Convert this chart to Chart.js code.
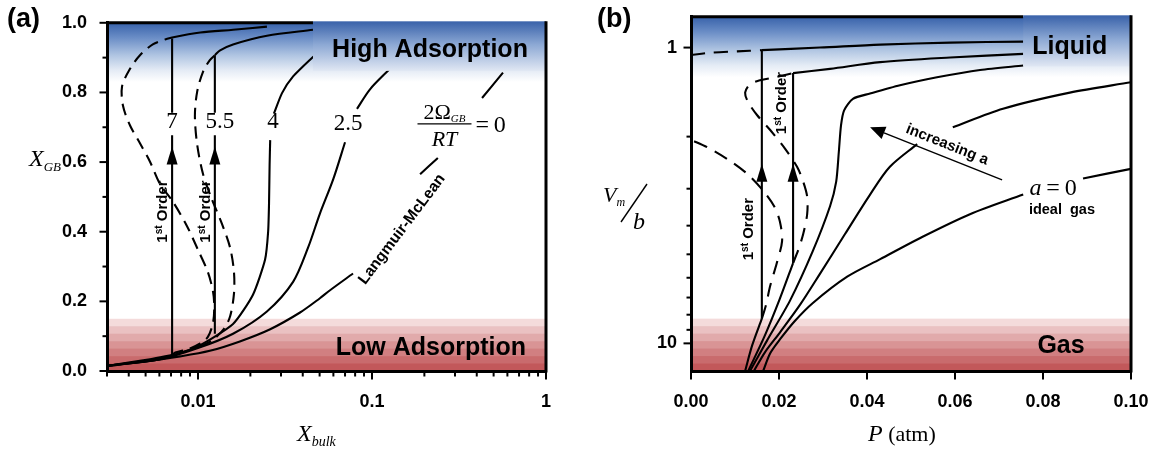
<!DOCTYPE html>
<html><head><meta charset="utf-8">
<script src="https://cdn.jsdelivr.net/npm/chart.js@4.4.0/dist/chart.umd.min.js"></script>
<style>
html,body{margin:0;padding:0;background:#fff;}
#wrap{position:relative;width:1150px;height:449px;overflow:hidden;background:#fff;}
.pane{position:absolute;top:0;width:575px;height:449px;}
canvas{display:block;}
</style></head><body>
<div id="wrap">
<div class="pane" style="left:0"><canvas id="ca" width="575" height="449" style="width:575px;height:449px"></canvas></div>
<div class="pane" style="left:575px"><canvas id="cb" width="575" height="449" style="width:575px;height:449px"></canvas></div>
</div>
<script>
// ================= DATA : panel (a)  X_bulk (log) vs X_GB =================
const aXTickValues = [0.01, 0.1, 1];
const aXTickLabels = ['0.01', '0.1', '1'];
const aYTickValues = [0, 0.2, 0.4, 0.6, 0.8, 1.0];
const aYTickLabels = ['0.0', '0.2', '0.4', '0.6', '0.8', '1.0'];
const aCurveNames = ['7', '5.5', '4', '2.5'];           // 2Ω_GB/RT values

// 2Ω/RT = 0  (Langmuir-McLean)
const aLmX = [0.003, 0.0046, 0.0079, 0.0117, 0.0174, 0.026, 0.0386, 0.0502, 0.0574, 0.0778, 0.1, 0.189, 0.239, 0.3, 0.429, 0.566];
const aLmY = [0.014, 0.025, 0.042, 0.058, 0.085, 0.12, 0.168, 0.209, 0.232, 0.28, null, 0.565, 0.612, null, 0.784, 0.857];
// 2Ω/RT = 2.5
const a25X = [0.003, 0.006, 0.0099, 0.0159, 0.0249, 0.0352, 0.0429, 0.0502, 0.0599, 0.07, 0.076, 0.082, 0.0974, 0.1268];
const a25Y = [0.015, 0.033, 0.065, 0.107, 0.171, 0.256, 0.354, 0.452, 0.551, 0.657, null, 0.753, 0.809, 0.868];
// 2Ω/RT = 4
const a4X = [0.003, 0.006, 0.0099, 0.0159, 0.0207, 0.0243, 0.0253, 0.0256, 0.0258, 0.026, 0.0266, 0.0273, 0.0304, 0.0352, 0.0458, 0.049];
const a4Y = [0.015, 0.034, 0.07, 0.135, 0.219, 0.32, 0.40, 0.48, 0.593, 0.663, null, 0.739, 0.798, 0.846, 0.902, 0.913];
// 2Ω/RT = 5.5
const a55LowX = [0.003, 0.006, 0.0084, 0.0103];
const a55LowY = [0.015, 0.035, 0.056, 0.07];
const a55UnstX = [0.0103, 0.012, 0.0141, 0.0153, 0.0161, 0.0161, 0.0153, 0.0137, 0.012, 0.0107, 0.0099, 0.0096, 0.0099, 0.0107, 0.0117, 0.0125];
const a55UnstY = [0.07, 0.087, 0.121, 0.157, 0.222, 0.284, 0.354, 0.424, 0.494, 0.565, 0.649, 0.733, 0.803, 0.86, 0.893, 0.907];
const a55HighX = [0.0125, 0.0134, 0.0159, 0.0249, 0.0458];
const a55HighY = [0.907, 0.921, 0.938, 0.963, 0.98];
const a55JumpX = [0.0125, 0.0125, 0.0125, 0.0125, 0.0125];
const a55JumpY = [0.107, 0.677, null, 0.742, 0.907];
// 2Ω/RT = 7
const a7LowX = [0.003, 0.0053, 0.0071];
const a7LowY = [0.015, 0.034, 0.046];
const a7UnstX = [0.0071, 0.0074, 0.009, 0.0103, 0.0114, 0.0122, 0.0124, 0.0122, 0.0114, 0.01, 0.00865, 0.00718, 0.00605, 0.0053, 0.00464, 0.00407, 0.00371, 0.00366, 0.00407, 0.00464, 0.0055, 0.00646];
const a7UnstY = [0.046, 0.053, 0.065, 0.079, 0.098, 0.138, 0.185, 0.228, 0.284, 0.348, 0.416, 0.486, 0.537, 0.601, 0.654, 0.705, 0.761, 0.817, 0.868, 0.907, 0.938, 0.952];
const a7HighX = [0.00646, 0.0071, 0.0103, 0.0159, 0.0249];
const a7HighY = [0.952, 0.958, 0.972, 0.98, 0.989];
const a7JumpX = [0.0071, 0.0071, 0.0071, 0.0071, 0.0071];
const a7JumpY = [0.037, 0.677, null, 0.742, 0.955];

// ================= DATA : panel (b)  P (atm) vs V_m/b (log, reversed) =================
const bXTickValues = [0, 0.02, 0.04, 0.06, 0.08, 0.10];
const bXTickLabels = ['0.00', '0.02', '0.04', '0.06', '0.08', '0.10'];
const bYTickValues = [1, 10];
const bYTickLabels = ['1', '10'];

// a = 0 (ideal gas)
const bIdealP = [0.0164, 0.018, 0.0202, 0.0236, 0.0277, 0.0355, 0.043, 0.052, 0.0634, 0.0755, 0.082, 0.0891, 0.1];
const bIdealV = [12.4, 10.8, 9.7, 8.4, 7.3, 5.95, 5.19, 4.41, 3.66, 3.14, null, 2.77, 2.57];
// small a
const bEP = [0.0143, 0.0168, 0.0202, 0.0248, 0.0293, 0.035, 0.0407, 0.0452, 0.0514, 0.055, 0.0595, 0.0709, 0.0861, 0.1];
const bEV = [12.4, 10.72, 9.19, 7.40, 5.82, 4.27, 3.14, 2.53, 2.12, null, 1.86, 1.61, 1.42, 1.31];
// critical-like a
const bCP = [0.0134, 0.0173, 0.0225, 0.0277, 0.0316, 0.033, 0.0336, 0.0341, 0.0348, 0.0368, 0.0407, 0.0475, 0.0559, 0.0657, 0.0755];
const bCV = [12.4, 9.77, 7.17, 4.87, 3.44, 2.84, 2.25, 1.83, 1.63, 1.49, 1.43, 1.34, 1.26, 1.19, 1.15];
// larger a (first order)
const bBLowP = [0.013, 0.0168, 0.0202, 0.0232];
const bBLowV = [12.4, 9.40, 7.06, 5.35];
const bBUnstP = [0.0232, 0.0243, 0.0255, 0.0264, 0.0264, 0.0255, 0.0241, 0.0214, 0.018, 0.015, 0.013, 0.0123, 0.0134, 0.0157, 0.0191, 0.0232];
const bBUnstV = [5.35, 4.87, 4.27, 3.66, 3.19, 2.84, 2.53, 2.20, 1.90, 1.69, 1.53, 1.42, 1.33, 1.29, 1.26, 1.22];
const bBHighP = [0.0232, 0.0316, 0.043, 0.0589, 0.0755];
const bBHighV = [1.22, 1.18, 1.12, 1.08, 1.05];
const bBJumpP = [0.0232, 0.0232];
const bBJumpV = [5.35, 1.22];
// largest a (first order)
const bALowP = [0.0123, 0.0139, 0.0161];
const bALowV = [12.4, 10.16, 8.25];
const bAUnstP = [0.0161, 0.017, 0.018, 0.0195, 0.0207, 0.0202, 0.0189, 0.0166, 0.013, 0.0084, 0.0039, 0, 0, 0, 0.0048, 0.0105, 0.0161];
const bAUnstV = [8.25, 7.46, 6.39, 5.35, 4.51, 3.87, 3.44, 3.07, 2.69, 2.39, 2.18, 2.05, null, 1.06, 1.04, 1.03, 1.02];
const bAHighP = [0.0161, 0.0293, 0.043, 0.0589, 0.0755];
const bAHighV = [1.02, 1.0, 0.977, 0.962, 0.955];
const bAJumpP = [0.0161, 0.0161];
const bAJumpV = [8.25, 1.02];

// ================= helpers =================
const SANS = "'Liberation Sans', Arial, sans-serif";
const SERIF = "'Liberation Serif', 'Times New Roman', serif";
const THIN = '\u2009';

function pts(xs, ys) { return xs.map((x, i) => ({x: x, y: ys[i]})); }
function curve(xs, ys, dash, tension) {
  return {data: pts(xs, ys), showLine: true, borderColor: '#000', borderWidth: 2.1,
    pointRadius: 0, pointHoverRadius: 0, borderDash: dash || [], tension: tension === undefined ? 0.3 : tension,
    fill: false, spanGaps: false};
}
function near(v, m) { return Math.abs(v - m) < 1e-9 + 1e-6 * Math.abs(m); }
function labelFor(v, vals, labs) { for (let i = 0; i < vals.length; i++) if (near(v, vals[i])) return labs[i]; return ''; }
function isWholeMantissa(v) { if (v <= 0) return false; const e = Math.floor(Math.log10(v) + 1e-9); const m = v / Math.pow(10, e); return Math.abs(m - Math.round(m)) < 1e-6; }
function PX(chart, x, y) { return {x: chart.scales.x.getPixelForValue(x), y: chart.scales.y.getPixelForValue(y)}; }

function drawRich(ctx, parts, x, y, align) {
  let w = 0;
  for (const p of parts) { ctx.font = p.font; w += ctx.measureText(p.text).width; }
  let cx = align === 'center' ? x - w / 2 : x;
  ctx.textAlign = 'left'; ctx.textBaseline = 'alphabetic';
  for (const p of parts) { ctx.font = p.font; ctx.fillText(p.text, cx, y + (p.dy || 0)); cx += ctx.measureText(p.text).width; }
  return w;
}

function drawBands(chart, cfg) {
  const ctx = chart.ctx, a = chart.chartArea, ys = chart.scales.y;
  ctx.save();
  ctx.beginPath(); ctx.rect(a.left, a.top, a.right - a.left, a.bottom - a.top); ctx.clip();
  const bBot = ys.getPixelForValue(cfg.blueTo);
  const g = ctx.createLinearGradient(0, a.top, 0, bBot);
  g.addColorStop(0, 'rgb(56,98,170)');
  g.addColorStop(0.25, 'rgb(106,141,198)');
  g.addColorStop(0.55, 'rgb(176,197,226)');
  g.addColorStop(0.8, 'rgb(228,235,245)');
  g.addColorStop(1, 'rgb(255,255,255)');
  ctx.fillStyle = g; ctx.fillRect(a.left, a.top, a.right - a.left, bBot - a.top);
  const rTop = ys.getPixelForValue(cfg.redTo), steps = 7, h = (a.bottom - rTop) / steps;
  const c0 = [250, 236, 236], c1 = [190, 78, 80];
  for (let i = 0; i < steps; i++) {
    const t = Math.pow((i + 0.5) / steps, 0.85);
    const col = c0.map((v, k) => Math.round(v + (c1[k] - v) * t));
    ctx.fillStyle = 'rgb(' + col.join(',') + ')';
    ctx.fillRect(a.left, rTop + i * h, a.right - a.left, h + 0.6);
  }
  ctx.restore();
}

function drawFrameAndBox(chart, cfg) {
  const ctx = chart.ctx, a = chart.chartArea;
  const bx = chart.scales.x.getPixelForValue(cfg.boxFromX);
  const by = chart.scales.y.getPixelForValue(cfg.boxToY);
  ctx.save();
  ctx.strokeStyle = '#000'; ctx.lineWidth = 3; ctx.lineCap = 'butt';
  ctx.beginPath(); ctx.moveTo(a.left, a.top); ctx.lineTo(bx, a.top); ctx.stroke();
  const g = ctx.createLinearGradient(0, a.top, 0, by);
  g.addColorStop(0, 'rgb(62,102,172)');
  g.addColorStop(0.45, 'rgb(140,168,212)');
  g.addColorStop(1, 'rgb(224,231,243)');
  ctx.fillStyle = g; ctx.fillRect(bx, a.top - 1.5, a.right - bx, by - a.top + 1.5);
  ctx.beginPath(); ctx.moveTo(a.right, a.top - 1.5); ctx.lineTo(a.right, a.bottom + 1.5); ctx.stroke();
  ctx.restore();
}

function drawRegionLabel(chart, text, x, y) {
  const ctx = chart.ctx, p = PX(chart, x, y);
  ctx.save(); ctx.fillStyle = '#000'; ctx.font = 'bold 25px ' + SANS;
  ctx.textAlign = 'center'; ctx.textBaseline = 'middle'; ctx.fillText(text, p.x, p.y); ctx.restore();
}

function drawOrderLabel(chart, x, y) {
  const ctx = chart.ctx, p = PX(chart, x, y);
  ctx.save(); ctx.fillStyle = '#000'; ctx.translate(p.x, p.y); ctx.rotate(-Math.PI / 2);
  drawRich(ctx, [{text: '1', font: 'bold 15px ' + SANS}, {text: 'st', font: 'bold 10px ' + SANS, dy: -5},
    {text: ' Order', font: 'bold 15px ' + SANS}], 0, 5.5, 'center');
  ctx.restore();
}

function drawUpArrowHead(chart, x, tip, base) {
  const ctx = chart.ctx, t = PX(chart, x, tip), b = PX(chart, x, base);
  ctx.save(); ctx.fillStyle = '#000'; ctx.beginPath();
  ctx.moveTo(t.x, t.y); ctx.lineTo(t.x - 5.5, b.y); ctx.lineTo(t.x + 5.5, b.y); ctx.closePath(); ctx.fill(); ctx.restore();
}

function drawTicks(chart, spec) {
  const ctx = chart.ctx, a = chart.chartArea;
  ctx.save(); ctx.strokeStyle = '#000'; ctx.lineWidth = 2;
  for (const s of spec) {
    const sc = chart.scales[s.id];
    for (const t of sc.ticks) {
      const v = t.value;
      if (v < sc.min - 1e-12 || v > sc.max + 1e-12) continue;
      if (s.filter && !s.filter(v)) continue;
      const major = s.majors.some(m => near(v, m));
      const L = major ? s.major : s.minor;
      if (!L) continue;
      const p = sc.getPixelForValue(v);
      ctx.beginPath();
      if (sc.isHorizontal()) { ctx.moveTo(p, a.bottom); ctx.lineTo(p, a.bottom + 1.5 + L); }
      else { ctx.moveTo(a.left, p); ctx.lineTo(a.left - 1.5 - L, p); }
      ctx.stroke();
    }
  }
  ctx.restore();
}

// ================= panel (a) decorations =================
const aDeco = {
  blueTo: 0.83, redTo: 0.15, boxFromX: 0.0458, boxToY: 0.862,
  high: {x: 0.2155, y: 0.921}, low: {x: 0.218, y: 0.065},
  names: [{x: 0.0071, y: 0.716}, {x: 0.01337, y: 0.716}, {x: 0.027, y: 0.716}, {x: 0.0728, y: 0.71}],
  order: [{x: 0.00613, y: 0.458}, {x: 0.01097, y: 0.458}],
  heads: [{x: 0.0071, tip: 0.645, base: 0.593}, {x: 0.0125, tip: 0.645, base: 0.593}],
  lm: {x: 0.1487, y: 0.407, angle: -53},
  formula: {x: 0.261, y: 0.71}
};
const plugA = {
  id: 'decoA',
  beforeDraw(chart) { drawBands(chart, aDeco); },
  afterDatasetsDraw(chart) {
    const ctx = chart.ctx;
    drawFrameAndBox(chart, aDeco);
    drawRegionLabel(chart, 'High Adsorption', aDeco.high.x, aDeco.high.y);
    drawRegionLabel(chart, 'Low Adsorption', aDeco.low.x, aDeco.low.y);
    ctx.save(); ctx.fillStyle = '#000';
    ctx.font = '23px ' + SERIF; ctx.textAlign = 'center'; ctx.textBaseline = 'middle';
    aCurveNames.forEach((n, i) => { const p = PX(chart, aDeco.names[i].x, aDeco.names[i].y); ctx.fillText(n, p.x, p.y); });
    const q = PX(chart, aDeco.lm.x, aDeco.lm.y);
    ctx.translate(q.x, q.y); ctx.rotate(aDeco.lm.angle * Math.PI / 180);
    ctx.font = 'bold 15.5px ' + SANS; ctx.fillText('Langmuir-McLean', 0, 0);
    ctx.restore();
    const f = PX(chart, aDeco.formula.x, aDeco.formula.y);
    ctx.save(); ctx.fillStyle = '#000'; ctx.strokeStyle = '#000';
    drawRich(ctx, [{text: '2Ω', font: '22px ' + SERIF}, {text: 'GB', font: 'italic 11px ' + SERIF, dy: 3}], f.x, f.y - 5, 'center');
    ctx.lineWidth = 1.3; ctx.beginPath(); ctx.moveTo(f.x - 27, f.y); ctx.lineTo(f.x + 27, f.y); ctx.stroke();
    drawRich(ctx, [{text: 'RT', font: 'italic 22px ' + SERIF}], f.x, f.y + 22, 'center');
    drawRich(ctx, [{text: '=' + THIN + '0', font: '24px ' + SERIF}], f.x + 31, f.y + 8, 'left');
    ctx.restore();
    aDeco.order.forEach(o => drawOrderLabel(chart, o.x, o.y));
    aDeco.heads.forEach(h => drawUpArrowHead(chart, h.x, h.tip, h.base));
  },
  afterDraw(chart) {
    drawTicks(chart, [
      {id: 'x', majors: aXTickValues, major: 7, minor: 4, filter: isWholeMantissa},
      {id: 'y', majors: aYTickValues, major: 6, minor: 3}
    ]);
    const ctx = chart.ctx;
    ctx.save(); ctx.fillStyle = '#000';
    drawRich(ctx, [{text: '(a)', font: 'bold 27px ' + SANS}], 7, 27, 'left');
    drawRich(ctx, [{text: 'X', font: 'italic 24px ' + SERIF}, {text: 'GB', font: 'italic 13px ' + SERIF, dy: 5}], 29, 166, 'left');
    drawRich(ctx, [{text: 'X', font: 'italic 24px ' + SERIF}, {text: 'bulk', font: 'italic 14px ' + SERIF, dy: 5}], 297, 441, 'left');
    ctx.restore();
  }
};

// ================= panel (b) decorations =================
const bDeco = {
  blueTo: 1.26, redTo: 8.25, boxFromX: 0.0755, boxToY: 1.158,
  liquid: {x: 0.0861, y: 1.0}, gas: {x: 0.0841, y: 10.2},
  order: [{x: 0.01295, y: 4.11}, {x: 0.02045, y: 1.54}],
  heads: [{x: 0.0161, tip: 2.47, base: 2.84}, {x: 0.0232, tip: 2.47, base: 2.84}],
  arrow: {tipX: 0.0407, tipY: 1.86, tailX: 0.0707, tailY: 2.80},
  incr: {x: 0.0582, y: 2.13},
  a0: {x: 0.0823, y: 2.95}, ideal: {x: 0.0843, y: 3.55}
};
const plugB = {
  id: 'decoB',
  beforeDraw(chart) { drawBands(chart, bDeco); },
  afterDatasetsDraw(chart) {
    const ctx = chart.ctx;
    drawFrameAndBox(chart, bDeco);
    drawRegionLabel(chart, 'Liquid', bDeco.liquid.x, bDeco.liquid.y);
    drawRegionLabel(chart, 'Gas', bDeco.gas.x, bDeco.gas.y);
    bDeco.order.forEach(o => drawOrderLabel(chart, o.x, o.y));
    bDeco.heads.forEach(h => drawUpArrowHead(chart, h.x, h.tip, h.base));
    const t = PX(chart, bDeco.arrow.tipX, bDeco.arrow.tipY), s = PX(chart, bDeco.arrow.tailX, bDeco.arrow.tailY);
    const ang = Math.atan2(t.y - s.y, t.x - s.x);
    ctx.save(); ctx.strokeStyle = '#000'; ctx.fillStyle = '#000'; ctx.lineWidth = 1.5;
    const hl = 15, hw = 6.5;
    const bxp = t.x - hl * Math.cos(ang), byp = t.y - hl * Math.sin(ang);
    ctx.beginPath(); ctx.moveTo(s.x, s.y); ctx.lineTo(bxp, byp); ctx.stroke();
    ctx.beginPath(); ctx.moveTo(t.x, t.y);
    ctx.lineTo(bxp + hw * Math.sin(ang), byp - hw * Math.cos(ang));
    ctx.lineTo(bxp - hw * Math.sin(ang), byp + hw * Math.cos(ang)); ctx.closePath(); ctx.fill();
    const c = PX(chart, bDeco.incr.x, bDeco.incr.y);
    ctx.translate(c.x, c.y); ctx.rotate(Math.atan2(s.y - t.y, s.x - t.x));
    ctx.font = 'bold 15px ' + SANS; ctx.textAlign = 'center'; ctx.textBaseline = 'middle';
    ctx.fillText('increasing a', 0, 0);
    ctx.restore();
    const a0 = PX(chart, bDeco.a0.x, bDeco.a0.y), ig = PX(chart, bDeco.ideal.x, bDeco.ideal.y);
    ctx.save(); ctx.fillStyle = '#000';
    drawRich(ctx, [{text: 'a', font: 'italic 24px ' + SERIF}, {text: THIN + '=' + THIN + '0', font: '24px ' + SERIF}], a0.x, a0.y + 8, 'center');
    ctx.font = 'bold 14.5px ' + SANS; ctx.textAlign = 'center'; ctx.textBaseline = 'middle';
    ctx.fillText('ideal  gas', ig.x, ig.y);
    ctx.restore();
  },
  afterDraw(chart) {
    drawTicks(chart, [
      {id: 'x', majors: bXTickValues, major: 7, minor: 0},
      {id: 'y', majors: bYTickValues, major: 6, minor: 3,
        filter: v => v >= 1 - 1e-9 && v <= 10 + 1e-9 && Math.abs(v - Math.round(v)) < 1e-6}
    ]);
    const ctx = chart.ctx;
    ctx.save(); ctx.fillStyle = '#000'; ctx.strokeStyle = '#000';
    drawRich(ctx, [{text: '(b)', font: 'bold 27px ' + SANS}], 22, 27, 'left');
    drawRich(ctx, [{text: 'P', font: 'italic 24px ' + SERIF}, {text: ' (atm)', font: '22px ' + SERIF}], 293, 441, 'left');
    drawRich(ctx, [{text: 'V', font: 'italic 22px ' + SERIF}, {text: 'm', font: 'italic 12px ' + SERIF, dy: 4}], 28, 202, 'left');
    ctx.lineWidth = 1.4; ctx.beginPath(); ctx.moveTo(72, 184); ctx.lineTo(46, 222); ctx.stroke();
    drawRich(ctx, [{text: 'b', font: 'italic 24px ' + SERIF}], 58, 229, 'left');
    ctx.restore();
  }
};

// ================= charts =================
const tickFont = {family: SANS, size: 18, weight: 'bold'};
const DASH_A = [12, 7], DASH_B = [14, 9];
function fixX(s) { s.height = 78; s.paddingLeft = 0; s.paddingRight = 0; }

new Chart(document.getElementById('ca'), {
  type: 'scatter',
  data: {datasets: [
    curve(aLmX, aLmY), curve(a25X, a25Y), curve(a4X, a4Y, null, 0.2),
    curve(a55LowX, a55LowY), curve(a55UnstX, a55UnstY, DASH_A), curve(a55HighX, a55HighY), curve(a55JumpX, a55JumpY, null, 0),
    curve(a7LowX, a7LowY), curve(a7UnstX, a7UnstY, DASH_A), curve(a7HighX, a7HighY), curve(a7JumpX, a7JumpY, null, 0)
  ]},
  options: {
    responsive: false, animation: false, events: [],
    layout: {padding: {left: 0, right: 29, top: 15, bottom: 0}},
    plugins: {legend: {display: false}, tooltip: {enabled: false}},
    scales: {
      x: {type: 'logarithmic', min: 0.003, max: 1,
        grid: {display: false}, border: {display: true, color: '#000', width: 3},
        ticks: {autoSkip: false, maxRotation: 0, padding: 12, color: '#000', font: tickFont,
          callback: v => labelFor(v, aXTickValues, aXTickLabels)},
        afterFit: fixX},
      y: {type: 'linear', min: 0, max: 1,
        grid: {display: false}, border: {display: true, color: '#000', width: 3},
        ticks: {stepSize: 0.1, autoSkip: false, padding: 12, color: '#000', font: tickFont,
          callback: v => labelFor(v, aYTickValues, aYTickLabels)},
        afterFit: s => { s.width = 107; }}
    }
  },
  plugins: [plugA]
});

new Chart(document.getElementById('cb'), {
  type: 'scatter',
  data: {datasets: [
    curve(bIdealP, bIdealV), curve(bEP, bEV), curve(bCP, bCV, null, 0.25),
    curve(bBLowP, bBLowV), curve(bBUnstP, bBUnstV, DASH_B), curve(bBHighP, bBHighV), curve(bBJumpP, bBJumpV, null, 0),
    curve(bALowP, bALowV), curve(bAUnstP, bAUnstV, DASH_B), curve(bAHighP, bAHighV), curve(bAJumpP, bAJumpV, null, 0)
  ]},
  options: {
    responsive: false, animation: false, events: [],
    layout: {padding: {left: 0, right: 19, top: 15, bottom: 0}},
    plugins: {legend: {display: false}, tooltip: {enabled: false}},
    scales: {
      x: {type: 'linear', min: 0, max: 0.1,
        grid: {display: false}, border: {display: true, color: '#000', width: 3},
        ticks: {stepSize: 0.02, autoSkip: false, maxRotation: 0, padding: 12, color: '#000', font: tickFont,
          callback: v => labelFor(v, bXTickValues, bXTickLabels)},
        afterFit: fixX},
      y: {type: 'logarithmic', min: 0.787, max: 12.4, reverse: true,
        grid: {display: false}, border: {display: true, color: '#000', width: 3},
        ticks: {autoSkip: false, padding: 6, color: '#000', font: tickFont,
          callback: v => labelFor(v, bYTickValues, bYTickLabels)},
        afterFit: s => { s.width = 116; }}
    }
  },
  plugins: [plugB]
});
</script>
</body></html>
